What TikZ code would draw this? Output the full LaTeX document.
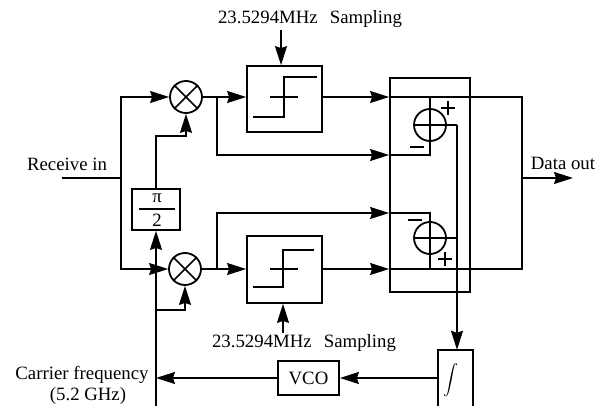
\documentclass[tikz,border=0pt]{standalone}
\usepackage{fontspec}
\setmainfont{Liberation Serif}
\usetikzlibrary{arrows.meta,calc}
\tikzset{
  sig/.style={line width=1.5pt},
  arr/.style={sig, -{Triangle[length=19pt,width=12pt,inset=2pt]}},
  blockbox/.style={draw, line width=1.8pt, inner sep=0pt},
  mixcirc/.style={draw, circle, line width=1.8pt, inner sep=0pt, minimum size=32pt},
  lbl/.style={font=\fontsize{18.8}{20}\selectfont, inner sep=0pt}
}
\begin{document}
\begin{tikzpicture}[x=1pt,y=-1pt]
  \useasboundingbox (0,0) rectangle (610,406);
  \node[lbl] (smptop) at (310,19) {23.5294MHz\hspace{12pt}Sampling};
  \node[lbl] (smpbot) at (304,343) {23.5294MHz\hspace{12pt}Sampling};
  \node[lbl] (recv) at (67,164) {Receive in};
  \node[lbl] (dout) at (563,163) {Data out};
  \node[lbl] (carr) at (82,375) {Carrier frequency};
  \node[lbl] (carrval) at (88,396) {(5.2 GHz)};
  \node[mixcirc] (mixa) at (186,97) {};
  \node[mixcirc] (mixb) at (185,269) {};
  \node[mixcirc] (adda) at (430,125) {};
  \node[mixcirc] (addb) at (430,238) {};
  \node[blockbox, minimum width=48pt, minimum height=41pt] (shift) at (156,209.5) {};
  \node[lbl] (shiftpi) at (157,198) {π};
  \node[lbl] (shifttwo) at (157,220) {2};
  \node[blockbox, minimum width=75pt, minimum height=66pt] (boxa) at (284.5,99) {};
  \node[blockbox, minimum width=75pt, minimum height=67pt] (boxb) at (284.5,269.5) {};
  \node[blockbox, minimum width=80pt, minimum height=214pt] (sumbox) at (430,185) {};
  \node[blockbox, lbl, draw, line width=1.8pt, minimum width=61pt, minimum height=34pt] (vco) at (308.5,378) {VCO};
  \node[minimum width=35pt, minimum height=56pt, inner sep=0pt] (intg) at (455.5,378) {};
  \node[lbl, scale=1.5] (intsym) at (451,380) {$\displaystyle\int$};
  \coordinate (inl) at (62,178);
  \coordinate (inj) at (121,178);
  \coordinate (outr) at (573,178);
  \coordinate (bot) at (156,406);
  \coordinate (turna) at (522,97);
  \coordinate (turnb) at (522,269);
  \coordinate (tapa) at (217,97);
  \coordinate (tapb) at (217,269);
  \coordinate (fba) at (457,125);
  \draw[blockbox] (intg.south west) -- (intg.north west) -- (intg.north east) -- (intg.south east);
  \draw[sig] (adda.north) -- (adda.south);
  \draw[sig] (adda.west) -- (adda.east);
  \draw[sig] (addb.north) -- (addb.south);
  \draw[sig] (addb.west) -- (addb.east);
  \draw[sig] (mixa.north west) -- (mixa.south east);
  \draw[sig] (mixa.north east) -- (mixa.south west);
  \draw[sig] (mixb.north west) -- (mixb.south east);
  \draw[sig] (mixb.north east) -- (mixb.south west);
  \draw[sig] (139,209) -- (175,209);
  \draw[sig] (inl) -- (inj);
  \draw[arr] (inj) |- (mixa.west);
  \draw[arr] (inj) |- (mixb.west);
  \draw[arr] (shift.north) |- (186,136) -- (mixa.south);
  \draw[arr] (bot) -- (shift.south);
  \draw[arr] (156,310) -| (mixb.south);
  \draw[arr] (mixa.east) -- (boxa.west |- mixa);
  \draw[arr] (mixb.east) -- (boxb.west |- mixb);
  \draw[arr] (tapa) |- (sumbox.west |- 0,155);
  \draw[arr] (tapb) |- (sumbox.west |- 0,213);
  \draw[arr] (boxa.east |- mixa) -- (sumbox.west |- mixa);
  \draw[arr] (boxb.east |- mixb) -- (sumbox.west |- mixb);
  \draw[sig] (sumbox.west |- mixa) -- (turna) -- (turnb) -- (sumbox.west |- mixb);
  \draw[sig] (adda.north) -- (adda.north |- mixa);
  \draw[sig] (adda.south) |- (sumbox.west |- 0,155);
  \draw[sig] (addb.north) |- (sumbox.west |- 0,213);
  \draw[sig] (addb.south) -- (addb.south |- mixb);
  \draw[sig] (adda.east) -- (fba);
  \draw[sig] (addb.east) -- (fba |- addb);
  \draw[arr] (fba) -- (fba |- intg.north);
  \draw[arr] (522,178) -- (outr);
  \draw[arr] (intg.west) -- (vco.east);
  \draw[arr] (vco.west) -- (156,378);
  \draw[arr] (281,30) -- (boxa.north -| 281,0);
  \draw[arr] (283,333) -- (boxb.south -| 283,0);
  \begin{scope}
    \draw[sig] (253,117) -- (284,117) -- (284,77) -- (317,77);
    \draw[sig] (270,97) -- (298,97);
  \end{scope}
  \begin{scope}[yshift=-170pt]
    \draw[sig] (253,117) -- (283,117) -- (283,80) -- (314,80);
    \draw[sig] (270,99) -- (298,99);
  \end{scope}
  \draw[sig] (448,101) -- (448,115);
  \draw[sig] (441,108) -- (455,108);
  \draw[sig] (410,147) -- (424,147);
  \draw[sig] (408,220) -- (422,220);
  \draw[sig] (445,252) -- (445,266);
  \draw[sig] (438,259) -- (452,259);
\end{tikzpicture}
\end{document}
